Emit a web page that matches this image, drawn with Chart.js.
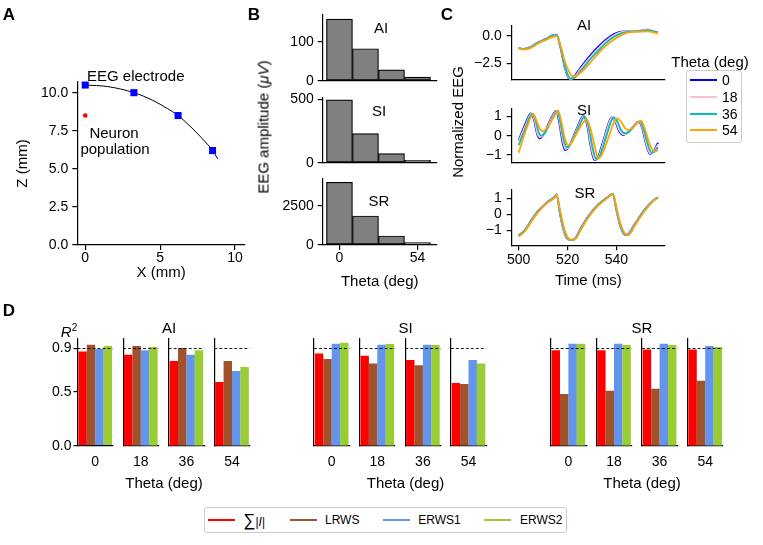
<!DOCTYPE html>
<html><head><meta charset="utf-8"><title>EEG figure</title>
<script src="https://cdn.jsdelivr.net/npm/chart.js@4.4.1/dist/chart.umd.min.js"></script>
<style>
html,body{margin:0;padding:0;background:#fff;}
#fig{position:relative;width:763px;height:545px;overflow:hidden;background:#fff;font-family:"Liberation Sans",Arial,sans-serif;color:#000;}
#fig canvas{position:absolute;left:0;top:0;}
.t{position:absolute;white-space:nowrap;font-size:15px;line-height:1;transform:translate(-50%,-50%);z-index:3;}
.tl{position:absolute;white-space:nowrap;font-size:15px;line-height:1;transform:translate(0,-50%);z-index:3;}
.rot{transform:translate(-50%,-50%) rotate(-90deg);}
.pl{font-weight:bold;font-size:17px;}
.leg{position:absolute;border:1px solid #cccccc;border-radius:3px;background:#fff;box-sizing:border-box;z-index:2;}
.sw{position:absolute;height:2px;z-index:3;}
</style></head><body><div id="fig"></div>
<script>
// ================= DATA =================
// Panel A (geometry, mm)
const electrodeX = [0, 3.25, 6.2, 8.5];
const electrodeZ = [10.5, 10.0, 8.5, 6.2];
const neuronX = [0];
const neuronZ = [8.5];
const scalpX = [0, 1.5, 3.25, 4.5, 5.5, 6.2, 7.0, 7.8, 8.5, 8.85];
const scalpZ = [10.5, 10.4, 10.0, 9.5, 8.95, 8.5, 7.8, 7.0, 6.2, 5.65];
const aXTicks = [0, 5, 10];
const aYTicks = [0, 2.5, 5, 7.5, 10];

// Panel B (EEG amplitude, uV)
const thetaBins = [0, 18, 36, 54];
const ampAI = [158, 82, 28, 9];
const ampSI = [495, 229, 71, 19];
const ampSR = [4030, 1854, 562, 129];
const bTicksAI = [0, 100];
const bTicksSI = [0, 500];
const bTicksSR = [0, 2500];
const bXTicks = [0, 54];

// Panel C (normalized EEG)
const thetaNames = ['0', '18', '36', '54'];
const aiTime = [500,502,505,508,511,514,515.5,517,519,520.5,521.5,523,525,527,530,533,536,539,542,545,548,551,553,555,557];
const aiTheta0  = [-1.1,-1.2,-1.0,-0.6,-0.3,0.05,0.1,-1.0,-3.0,-3.85,-3.92,-3.6,-3.0,-2.4,-1.6,-0.9,-0.3,0.15,0.38,0.4,0.42,0.5,0.55,0.4,0.3];
const aiTheta18 = [-1.1,-1.2,-1.0,-0.62,-0.32,0.03,0.08,-0.95,-2.9,-3.8,-3.92,-3.68,-3.12,-2.55,-1.75,-1.05,-0.42,0.05,0.32,0.4,0.42,0.5,0.56,0.42,0.3];
const aiTheta36 = [-1.12,-1.22,-1.05,-0.65,-0.35,0.0,0.05,-0.9,-2.8,-3.7,-3.88,-3.78,-3.3,-2.75,-1.95,-1.25,-0.6,-0.1,0.22,0.35,0.4,0.45,0.5,0.4,0.28];
const aiTheta54 = [-1.15,-1.25,-1.1,-0.7,-0.4,-0.1,-0.03,-0.8,-2.4,-3.2,-3.6,-3.7,-3.4,-3.0,-2.25,-1.5,-0.85,-0.35,0.05,0.3,0.35,0.38,0.4,0.3,0.22];

const siTheta0 = [[500,-0.23],[502.5,0.55],[505,1.17],[506.2,0.85],[507.5,0.1],[508.7,-0.14],[510,0.02],[512.5,0.7],[515.3,1.3],[516.5,0.75],[518,-0.4],[519,-0.75],[520.5,-0.58],[523.5,0.3],[526.5,1.03],[528,0.55],[529.5,-0.6],[531,-1.28],[532.5,-1.1],[535,-0.1],[538,0.96],[539.5,0.75],[541,0.25],[542.8,0.03],[544.5,0.15],[547,0.5],[549,0.73],[550.5,0.4],[552,-0.4],[553.7,-0.96],[555,-0.85],[557,-0.37]];
const siTheta18 = [[500,-0.3],[502.7,0.5],[505.2,1.15],[506.4,0.85],[507.7,0.12],[508.9,-0.08],[510.2,0.05],[512.7,0.7],[515.5,1.3],[516.7,0.75],[518.2,-0.35],[519.2,-0.7],[520.7,-0.54],[523.7,0.3],[526.7,1.02],[528.2,0.55],[529.7,-0.6],[531.2,-1.25],[532.7,-1.1],[535.2,-0.1],[538.2,0.95],[539.7,0.75],[541.2,0.28],[543,0.06],[544.7,0.17],[547.2,0.5],[549.2,0.73],[550.7,0.4],[552.2,-0.4],[553.9,-0.94],[555.2,-0.85],[557,-0.45]];
const siTheta36 = [[500,-0.5],[503,0.45],[505.5,1.15],[506.8,0.85],[508.2,0.18],[509.3,0.0],[510.6,0.12],[513.2,0.75],[515.8,1.3],[517,0.72],[518.6,-0.3],[519.7,-0.6],[521,-0.48],[524,0.3],[527,1.0],[528.6,0.5],[530.2,-0.6],[531.8,-1.22],[533.2,-1.05],[535.8,-0.05],[538.8,0.95],[540.3,0.75],[541.9,0.3],[543.7,0.12],[545.3,0.22],[547.7,0.55],[549.6,0.75],[551,0.4],[552.7,-0.4],[554.5,-0.9],[555.8,-0.8],[557,-0.6]];
const siTheta54 = [[500,-0.89],[503,0.3],[506,1.13],[507.4,0.75],[509,0.3],[510,0.24],[511.5,0.4],[514,0.9],[516.2,1.29],[517.5,0.7],[519,-0.2],[520.3,-0.49],[521.5,-0.4],[524.5,0.3],[527.8,0.85],[529.3,0.4],[531,-0.5],[532.6,-1.18],[534,-1.0],[537,0.0],[540,0.9],[541.5,0.8],[543.5,0.4],[545,0.3],[546.5,0.4],[548.5,0.65],[550,0.78],[551.5,0.4],[553.5,-0.4],[555.5,-0.83],[557,-0.75]];

const srTime = [500,502.6,505.3,508,511.4,514.9,515.5,516.9,518.3,519.6,521.3,523,525.7,529.2,532.6,536,538.5,540,541.4,543.5,544.8,547.6,551.7,555,557];
const srTheta0  = [-1.32,-0.96,-0.32,0.24,0.74,1.14,1.26,0.04,-0.96,-1.46,-1.6,-1.52,-0.76,0.04,0.64,1.04,1.28,0.24,-0.66,-1.3,-1.2,-0.56,0.34,0.88,1.08];
const srTheta18 = [-1.33,-0.97,-0.34,0.23,0.73,1.13,1.25,0.08,-0.92,-1.43,-1.6,-1.53,-0.78,0.03,0.63,1.03,1.28,0.28,-0.62,-1.28,-1.22,-0.58,0.33,0.87,1.08];
const srTheta36 = [-1.35,-1.0,-0.37,0.2,0.71,1.11,1.24,0.17,-0.83,-1.38,-1.59,-1.54,-0.82,0.0,0.6,1.02,1.28,0.35,-0.55,-1.25,-1.25,-0.62,0.3,0.85,1.07];
const srTheta54 = [-1.38,-1.05,-0.42,0.15,0.68,1.08,1.22,0.3,-0.7,-1.3,-1.58,-1.56,-0.88,-0.05,0.57,0.99,1.27,0.45,-0.45,-1.2,-1.3,-0.68,0.25,0.82,1.05];
const cXTicks = [500, 520, 540];
const cTicksAI = [0, -2.5];
const cTicksSI = [1, 0, -1];
const cTicksSR = [1, 0, -1];

// Panel D (R^2)
const thetaLabels = ['0', '18', '36', '54'];
const methodNames = ['∑|I|', 'LRWS', 'ERWS1', 'ERWS2'];
const aiSumI  = [0.873, 0.843, 0.784, 0.590];
const aiLRWS  = [0.935, 0.923, 0.904, 0.784];
const aiERWS1 = [0.895, 0.883, 0.843, 0.691];
const aiERWS2 = [0.923, 0.914, 0.883, 0.728];
const siSumI  = [0.855, 0.833, 0.793, 0.580];
const siLRWS  = [0.802, 0.762, 0.744, 0.571];
const siERWS1 = [0.944, 0.935, 0.935, 0.793];
const siERWS2 = [0.954, 0.941, 0.932, 0.762];
const srSumI  = [0.883, 0.883, 0.892, 0.892];
const srLRWS  = [0.478, 0.509, 0.528, 0.602];
const srERWS1 = [0.944, 0.944, 0.944, 0.923];
const srERWS2 = [0.944, 0.932, 0.932, 0.914];
const dYTicks = [0, 0.5, 0.9];
const refR2 = 0.9;

// ================= STYLE =================
const W = 763, H = 545;
const fig = document.getElementById('fig');
Chart.defaults.font.family = '"Liberation Sans", Arial, sans-serif';
Chart.defaults.font.size = 14;
Chart.defaults.color = '#000';
const thetaColors = ['#0000ff', '#ffc0cb', '#00bfbf', '#ffa500'];
const methodColors = ['#ff0000', '#a0522d', '#6495ed', '#9acd32'];
const MINUS = '\u2212';

const refLine = {
  id: 'refLine',
  afterDatasetsDraw(chart, args, opts) {
    if (opts == null || opts.value == null) return;
    const a = chart.chartArea, y = chart.scales.y, ctx = chart.ctx;
    const py = y.getPixelForValue(opts.value);
    ctx.save();
    ctx.setLineDash([3, 2]);
    ctx.strokeStyle = '#000';
    ctx.lineWidth = 0.9;
    ctx.beginPath(); ctx.moveTo(a.left, py); ctx.lineTo(a.right, py); ctx.stroke();
    ctx.restore();
  }
};

function axis(o) {
  const s = {
    type: o.type || 'linear', position: o.pos,
    border: { display: true, color: '#000', width: 1.2 },
    grid: { display: !!o.marks, drawOnChartArea: false, drawTicks: !!o.marks, tickLength: o.tl || 5, color: '#000', lineWidth: 1.2, offset: false },
    ticks: { display: o.labels !== false, padding: o.pad == null ? 4 : o.pad, color: '#000', font: { size: 14 }, maxRotation: 0, autoSkip: false },
    title: o.title ? { display: true, text: o.title, padding: 0, font: { size: 15 }, color: '#000' } : { display: false }
  };
  if (o.offset !== undefined) s.offset = o.offset;
  if (o.min !== undefined) s.min = o.min;
  if (o.max !== undefined) s.max = o.max;
  if (o.fmt) s.ticks.callback = o.fmt;
  if (o.ticks) { const tv = o.ticks; s.afterBuildTicks = sc => { sc.ticks = tv.map(v => ({ value: v })); }; }
  return s;
}

function place(box, yW, xH, cfg) {
  const c = document.createElement('canvas');
  c.width = W; c.height = H; c.style.width = W + 'px'; c.style.height = H + 'px';
  fig.appendChild(c);
  const o = cfg.options = cfg.options || {};
  o.responsive = false; o.animation = false; o.devicePixelRatio = 1; o.maintainAspectRatio = false;
  o.events = [];
  o.layout = { padding: { left: box.l - yW, top: box.t, right: W - box.r, bottom: H - box.b - xH } };
  o.plugins = Object.assign({ legend: { display: false }, tooltip: { enabled: false }, title: { display: false } }, o.plugins || {});
  for (const k in o.scales) {
    o.scales[k].afterFit = sc => { if (sc.isHorizontal()) sc.height = xH; else sc.width = yW; };
  }
  cfg.plugins = [refLine];
  return new Chart(c, cfg);
}
const fmt1 = v => (v < 0 ? MINUS : '') + Math.abs(v).toFixed(1);
const fmt0 = v => (v < 0 ? MINUS : '') + String(Math.abs(v));

// ================= PANEL A =================
place({ l: 77.3, r: 245, t: 82, b: 245 }, 63, 37, {
  type: 'scatter',
  data: { datasets: [
    { data: electrodeX.map((x, i) => ({ x, y: electrodeZ[i] })), pointStyle: 'rect', pointRadius: 5, backgroundColor: '#0000ff', borderWidth: 0, order: 1, clip: false },
    { data: neuronX.map((x, i) => ({ x, y: neuronZ[i] })), pointRadius: 2.3, backgroundColor: '#ff0000', borderWidth: 0, order: 2 },
    { data: scalpX.map((x, i) => ({ x, y: scalpZ[i] })), showLine: true, borderColor: '#000', borderWidth: 1, pointRadius: 0, cubicInterpolationMode: 'monotone', order: 3 }
  ] },
  options: { scales: {
    x: axis({ pos: 'bottom', min: -0.53, max: 10.67, ticks: aXTicks, marks: true, pad: 0, title: 'X (mm)' }),
    y: axis({ pos: 'left', min: 0, max: 10.7, ticks: aYTicks, marks: true, pad: 4, fmt: fmt1, title: 'Z (mm)' })
  } }
});

// ================= PANEL B =================
function bChart(box, vals, ymax, yt, bottom) {
  place(box, 45, bottom ? 46.3 : 10, {
    type: 'bar',
    data: { datasets: [{ data: thetaBins.map((t, i) => ({ x: t, y: vals[i] })), backgroundColor: '#808080', borderColor: '#000', borderWidth: 1.2, borderSkipped: false, categoryPercentage: 1, barPercentage: 1 }] },
    options: { scales: {
      x: axis({ pos: 'bottom', offset: false, min: -11.6, max: 67.3, ticks: bXTicks, marks: bottom, labels: bottom, pad: 0, fmt: fmt0, title: bottom ? 'Theta (deg)' : null }),
      y: axis({ pos: 'left', min: 0, max: ymax, ticks: yt, marks: true, pad: 4, fmt: fmt0 })
    } }
  });
}
bChart({ l: 322.7, r: 436.7, t: 15, b: 80.7 }, ampAI, 168.5, bTicksAI, false);
bChart({ l: 322.7, r: 436.7, t: 97.7, b: 162.7 }, ampSI, 512.6, bTicksSI, false);
bChart({ l: 322.7, r: 436.7, t: 179, b: 244.7 }, ampSR, 4244, bTicksSR, true);

// ================= PANEL C =================
function cChart(box, series, ymin, ymax, yt, yf, bottom) {
  place(box, 40, bottom ? 44.5 : 10, {
    type: 'line',
    data: { datasets: series.map((pts, i) => ({ label: thetaNames[i], data: pts, borderColor: thetaColors[i], borderWidth: 1.8, pointRadius: 0, fill: false, cubicInterpolationMode: 'monotone', order: 4 - i })) },
    options: { scales: {
      x: axis({ pos: 'bottom', min: 497.15, max: 559.85, ticks: cXTicks, marks: bottom, labels: bottom, pad: 1, fmt: fmt0, title: bottom ? 'Time (ms)' : null }),
      y: axis({ pos: 'left', min: ymin, max: ymax, ticks: yt, marks: true, pad: 5, fmt: yf })
    } }
  });
}
const zipT = (ts, vs) => ts.map((t, i) => ({ x: t, y: vs[i] }));
const pairs = arr => arr.map(p => ({ x: p[0], y: p[1] }));
cChart({ l: 511.7, r: 665, t: 26, b: 80 }, [zipT(aiTime, aiTheta0), zipT(aiTime, aiTheta18), zipT(aiTime, aiTheta36), zipT(aiTime, aiTheta54)], -4.01, 0.88, cTicksAI, fmt1, false);
cChart({ l: 511.7, r: 665, t: 108.3, b: 162.7 }, [pairs(siTheta0), pairs(siTheta18), pairs(siTheta36), pairs(siTheta54)], -1.41, 1.43, cTicksSI, fmt0, false);
cChart({ l: 511.7, r: 665, t: 189.3, b: 245.3 }, [zipT(srTime, srTheta0), zipT(srTime, srTheta18), zipT(srTime, srTheta36), zipT(srTime, srTheta54)], -1.93, 1.575, cTicksSR, fmt0, true);

// ================= PANEL D =================
const dTop = 338.8, dBot = 445.7, dW = 35.4, dStep = 45.6;
function dGroup(left0, sets, firstTicks) {
  for (let k = 0; k < 4; k++) {
    const l = left0 + k * dStep;
    const first = firstTicks && k === 0;
    place({ l, r: l + dW, t: dTop, b: dBot }, first ? 40 : 10, 30, {
      type: 'bar',
      data: { labels: [thetaLabels[k]], datasets: sets.map((s, i) => ({ label: methodNames[i], data: [s[k]], backgroundColor: methodColors[i], borderWidth: 0, categoryPercentage: 0.95, barPercentage: 1 })) },
      options: {
        scales: {
          x: axis({ type: 'category', pos: 'bottom', marks: false, pad: 8 }),
          y: axis({ pos: 'left', min: 0, max: 0.99, ticks: first ? dYTicks : null, marks: first, labels: first, pad: 2, tl: 4, fmt: fmt1 })
        },
        plugins: { refLine: { value: refR2 } }
      }
    });
  }
}
dGroup(77.5, [aiSumI, aiLRWS, aiERWS1, aiERWS2], true);
dGroup(314, [siSumI, siLRWS, siERWS1, siERWS2], false);
dGroup(550.7, [srSumI, srLRWS, srERWS1, srERWS2], false);

// ================= TEXT / LEGENDS =================
function txt(html, x, y, cls, style) {
  const d = document.createElement('div');
  d.className = cls || 't';
  d.innerHTML = html;
  d.style.left = x + 'px'; d.style.top = y + 'px';
  if (style) Object.assign(d.style, style);
  fig.appendChild(d);
  return d;
}
txt('A', 9, 14, 't pl'); txt('B', 254, 14, 't pl'); txt('C', 447, 14, 't pl'); txt('D', 9, 310, 't pl');
// A
txt('EEG electrode', 87, 75, 'tl');
txt('Neuron', 114, 132); txt('population', 115, 148);
// B
txt('AI', 381, 27); txt('SI', 379, 110); txt('SR', 379, 200);
txt('EEG amplitude (<i>μV</i>)', 263, 127, 't rot');
// C
txt('AI', 584, 24); txt('SI', 584, 109); txt('SR', 585, 191.5);
txt('Normalized EEG', 457, 122, 't rot');
txt('Theta (deg)', 710, 61);
(function () {
  const b = document.createElement('div'); b.className = 'leg';
  Object.assign(b.style, { left: '686px', top: '70px', width: '56px', height: '73px' });
  fig.appendChild(b);
  const ys = [80, 97, 113.5, 130];
  thetaNames.forEach((n, i) => {
    const s = document.createElement('div'); s.className = 'sw';
    Object.assign(s.style, { left: '689.5px', top: (ys[i] - 1) + 'px', width: '27px', background: thetaColors[i] });
    fig.appendChild(s);
    txt(n, 722, ys[i], 'tl', { fontSize: '14px' });
  });
})();
// D
txt('<i>R</i><sup style="font-size:10px;vertical-align:6px">2</sup>', 69, 331);
txt('AI', 169, 327); txt('SI', 405.5, 327); txt('SR', 642, 327);
txt('Theta (deg)', 164, 482); txt('Theta (deg)', 405.5, 482); txt('Theta (deg)', 642, 482);
(function () {
  const b = document.createElement('div'); b.className = 'leg';
  Object.assign(b.style, { left: '204px', top: '506.5px', width: '363px', height: '26px' });
  fig.appendChild(b);
  const lx = [208, 290, 383.3, 484], tx = [243.3, 325, 418.3, 520];
  methodNames.forEach((n, i) => {
    const s = document.createElement('div'); s.className = 'sw';
    Object.assign(s.style, { left: lx[i] + 'px', top: '519px', width: '27px', background: methodColors[i] });
    fig.appendChild(s);
    const label = i === 0 ? '<span style="font-size:17px">∑</span>|<i>I</i>|' : n;
    txt(label, tx[i], 520, 'tl', { fontSize: '12px' });
  });
})();
</script></body></html>
